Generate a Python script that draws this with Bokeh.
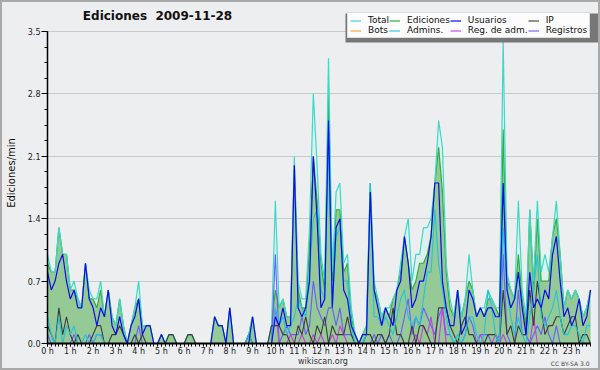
from bokeh.plotting import figure
from bokeh.layouts import column
from bokeh.models import (Range1d, FixedTicker, Legend, LegendItem, Label, Title,
                          BoxAnnotation, NumeralTickFormatter, ColumnDataSource)
from bokeh.embed import file_html
from bokeh.resources import INLINE

# ---------------- data (edits per minute, 10-minute bins) ----------------
title_text = "Ediciones\u00a0\u00a02009-11-28"
y_label = "Ediciones/min"
site_text = "wikiscan.org"
licence_text = "CC BY-SA 3.0"
hour_labels = [f"{h} h" for h in range(24)]
y_ticks = [0.0, 0.7, 1.4, 2.1, 2.8, 3.5]
bin_minutes = list(range(0, 1440, 10))
series_names = ["Total", "Ediciones", "Usuarios", "IP", "Bots", "Admins.", "Reg. de adm.", "Registros"]

total = [
    1.0, 0.8, 0.8, 1.3, 1.0, 1.0,
    0.6, 0.7, 0.5, 0.4, 0.9, 0.6,
    0.5, 0.5, 0.7, 0.3, 0.6, 0.3,
    0.2, 0.5, 0.2, 0.0, 0.2, 0.4,
    0.7, 0.2, 0.2, 0.2, 0.0, 0.0,
    0.1, 0.0, 0.1, 0.1, 0.0, 0.0,
    0.0, 0.1, 0.1, 0.0, 0.0, 0.0,
    0.0, 0.0, 0.3, 0.2, 0.2, 0.0,
    0.4, 0.0, 0.0, 0.0, 0.0, 0.1,
    0.3, 0.0, 0.0, 0.0, 0.0, 0.2,
    1.6, 0.4, 0.5, 0.3, 0.3, 2.1,
    0.7, 0.5, 0.5, 1.3, 2.8, 2.0,
    1.0, 0.7, 3.2, 0.8, 1.7, 1.8,
    0.9, 1.0, 0.4, 0.1, 0.0, 0.1,
    0.2, 1.8, 0.7, 0.5, 0.3, 0.4,
    0.4, 0.5, 0.6, 0.9, 1.2, 1.4,
    0.7, 1.0, 1.0, 1.3, 1.3, 1.4,
    1.8, 2.5, 2.2, 0.9, 0.5, 0.3,
    0.6, 0.3, 0.5, 1.0, 0.6, 0.3,
    0.4, 0.4, 0.6, 0.5, 0.4, 0.4,
    3.4, 0.8, 0.6, 0.5, 1.6, 0.6,
    0.3, 1.5, 0.7, 1.6, 0.8, 1.0,
    0.8, 1.2, 1.6, 1.0, 0.4, 0.6,
    0.5, 0.6, 0.5, 0.3, 0.4, 0.6,
]
ediciones = [
    0.9, 0.8, 0.8, 1.3, 1.0, 1.0,
    0.6, 0.6, 0.5, 0.4, 0.9, 0.5,
    0.5, 0.4, 0.6, 0.3, 0.6, 0.3,
    0.2, 0.5, 0.2, 0.0, 0.2, 0.4,
    0.5, 0.2, 0.2, 0.2, 0.0, 0.0,
    0.1, 0.0, 0.1, 0.1, 0.0, 0.0,
    0.0, 0.1, 0.1, 0.0, 0.0, 0.0,
    0.0, 0.0, 0.3, 0.2, 0.2, 0.0,
    0.4, 0.0, 0.0, 0.0, 0.0, 0.1,
    0.3, 0.0, 0.0, 0.0, 0.0, 0.2,
    0.6, 0.4, 0.5, 0.3, 0.3, 2.0,
    0.6, 0.4, 0.4, 1.1, 2.1, 1.6,
    0.9, 0.6, 2.8, 0.7, 1.5, 1.5,
    0.8, 0.9, 0.3, 0.1, 0.0, 0.1,
    0.2, 1.8, 0.6, 0.5, 0.3, 0.4,
    0.3, 0.5, 0.6, 0.8, 1.2, 0.9,
    0.6, 0.7, 0.9, 0.9, 1.0, 1.2,
    1.8, 2.2, 1.7, 0.8, 0.4, 0.3,
    0.6, 0.3, 0.5, 0.7, 0.6, 0.3,
    0.4, 0.3, 0.5, 0.5, 0.4, 0.3,
    2.4, 0.7, 0.6, 0.5, 1.0, 0.5,
    0.2, 1.5, 0.6, 1.4, 0.7, 0.7,
    0.7, 1.2, 1.4, 1.0, 0.4, 0.6,
    0.5, 0.6, 0.5, 0.3, 0.4, 0.6,
]
usuarios = [
    0.8, 0.6, 0.7, 0.9, 1.0, 0.7,
    0.5, 0.6, 0.4, 0.4, 0.9, 0.5,
    0.4, 0.2, 0.4, 0.3, 0.6, 0.2,
    0.1, 0.3, 0.1, 0.0, 0.2, 0.3,
    0.5, 0.1, 0.2, 0.2, 0.0, 0.0,
    0.1, 0.0, 0.0, 0.0, 0.0, 0.0,
    0.0, 0.0, 0.0, 0.0, 0.0, 0.0,
    0.0, 0.0, 0.3, 0.2, 0.2, 0.0,
    0.4, 0.0, 0.0, 0.0, 0.0, 0.0,
    0.3, 0.0, 0.0, 0.0, 0.0, 0.0,
    0.3, 0.2, 0.4, 0.2, 0.2, 2.0,
    0.4, 0.3, 0.4, 0.7, 2.1, 1.4,
    0.4, 0.5, 2.5, 0.4, 1.3, 1.4,
    0.6, 0.5, 0.2, 0.1, 0.0, 0.1,
    0.1, 1.7, 0.6, 0.4, 0.2, 0.4,
    0.3, 0.2, 0.6, 0.7, 1.2, 0.9,
    0.4, 0.5, 0.7, 0.7, 0.9, 1.2,
    1.8, 1.8, 0.7, 0.4, 0.2, 0.2,
    0.6, 0.1, 0.2, 0.6, 0.5, 0.3,
    0.4, 0.3, 0.4, 0.4, 0.3, 0.3,
    1.8, 0.6, 0.4, 0.5, 0.8, 0.4,
    0.1, 0.8, 0.4, 0.5, 0.4, 0.6,
    0.5, 1.0, 1.2, 0.7, 0.3, 0.4,
    0.2, 0.3, 0.5, 0.2, 0.3, 0.6,
]
ip = [
    0.2, 0.1, 0.0, 0.4, 0.1, 0.3,
    0.1, 0.0, 0.1, 0.0, 0.0, 0.0,
    0.1, 0.2, 0.2, 0.0, 0.0, 0.1,
    0.1, 0.2, 0.1, 0.0, 0.0, 0.1,
    0.0, 0.1, 0.0, 0.0, 0.0, 0.0,
    0.0, 0.0, 0.1, 0.1, 0.0, 0.0,
    0.0, 0.1, 0.1, 0.0, 0.0, 0.0,
    0.0, 0.0, 0.0, 0.0, 0.0, 0.0,
    0.0, 0.0, 0.0, 0.0, 0.0, 0.1,
    0.0, 0.0, 0.0, 0.0, 0.0, 0.2,
    0.2, 0.2, 0.1, 0.1, 0.0, 0.0,
    0.2, 0.1, 0.3, 0.1, 0.0, 0.2,
    0.1, 0.3, 0.0, 0.2, 0.1, 0.1,
    0.1, 0.3, 0.1, 0.0, 0.0, 0.0,
    0.1, 0.1, 0.0, 0.1, 0.1, 0.0,
    0.1, 0.4, 0.1, 0.1, 0.0, 0.0,
    0.2, 0.0, 0.2, 0.2, 0.1, 0.0,
    0.0, 0.4, 0.4, 0.4, 0.2, 0.1,
    0.0, 0.2, 0.3, 0.1, 0.1, 0.0,
    0.0, 0.0, 0.1, 0.1, 0.1, 0.0,
    0.6, 0.1, 0.2, 0.0, 0.2, 0.1,
    0.1, 0.6, 0.2, 0.7, 0.4, 0.1,
    0.2, 0.2, 0.3, 0.3, 0.1, 0.2,
    0.3, 0.3, 0.0, 0.1, 0.1, 0.0,
]
bots = [0.0] * 144
admins = [
    0.3, 0.1, 0.0, 0.3, 0.0, 0.2,
    0.1, 0.2, 0.0, 0.0, 0.1, 0.0,
    0.0, 0.1, 0.1, 0.0, 0.0, 0.0,
    0.0, 0.0, 0.0, 0.0, 0.0, 0.0,
    0.0, 0.0, 0.0, 0.0, 0.0, 0.0,
    0.0, 0.0, 0.0, 0.0, 0.0, 0.0,
    0.0, 0.0, 0.0, 0.0, 0.0, 0.0,
    0.0, 0.0, 0.0, 0.0, 0.0, 0.0,
    0.0, 0.0, 0.0, 0.0, 0.0, 0.1,
    0.0, 0.0, 0.0, 0.0, 0.0, 0.0,
    0.4, 0.2, 0.3, 0.1, 0.2, 0.3,
    0.5, 0.4, 0.3, 0.8, 1.4, 1.5,
    0.6, 0.5, 2.2, 0.4, 1.2, 1.3,
    0.7, 0.7, 0.2, 0.0, 0.0, 0.0,
    0.1, 1.8, 0.3, 0.3, 0.2, 0.3,
    0.2, 0.1, 0.3, 0.5, 0.6, 0.3,
    0.2, 0.3, 0.2, 0.5, 0.8, 0.8,
    1.5, 0.9, 0.6, 0.3, 0.1, 0.0,
    0.1, 0.0, 0.1, 0.3, 0.3, 0.1,
    0.0, 0.1, 0.6, 0.4, 0.1, 0.0,
    1.3, 0.6, 0.3, 0.1, 0.3, 0.1,
    0.0, 0.3, 0.6, 1.0, 0.3, 0.2,
    0.3, 0.4, 0.6, 0.3, 0.1, 0.1,
    0.2, 0.2, 0.1, 0.0, 0.2, 0.2,
]
reg_adm = [
    0.0, 0.0, 0.0, 0.0, 0.0, 0.0,
    0.0, 0.0, 0.0, 0.0, 0.0, 0.0,
    0.0, 0.0, 0.0, 0.0, 0.0, 0.0,
    0.0, 0.0, 0.0, 0.0, 0.0, 0.0,
    0.0, 0.0, 0.0, 0.0, 0.0, 0.0,
    0.0, 0.0, 0.0, 0.0, 0.0, 0.0,
    0.0, 0.0, 0.0, 0.0, 0.0, 0.0,
    0.0, 0.0, 0.0, 0.0, 0.0, 0.0,
    0.0, 0.0, 0.0, 0.0, 0.0, 0.0,
    0.0, 0.0, 0.0, 0.0, 0.0, 0.0,
    0.4, 0.0, 0.0, 0.0, 0.1, 0.0,
    0.0, 0.1, 0.0, 0.0, 0.1, 0.0,
    0.1, 0.0, 0.0, 0.1, 0.0, 0.2,
    0.1, 0.0, 0.0, 0.0, 0.0, 0.0,
    0.0, 0.0, 0.0, 0.0, 0.0, 0.0,
    0.0, 0.0, 0.0, 0.0, 0.0, 0.0,
    0.0, 0.1, 0.0, 0.2, 0.1, 0.3,
    0.0, 0.0, 0.4, 0.0, 0.0, 0.0,
    0.0, 0.0, 0.0, 0.0, 0.0, 0.0,
    0.1, 0.0, 0.0, 0.0, 0.1, 0.0,
    0.1, 0.0, 0.0, 0.0, 0.0, 0.0,
    0.0, 0.0, 0.3, 0.0, 0.0, 0.0,
    0.0, 0.0, 0.0, 0.0, 0.0, 0.0,
    0.0, 0.0, 0.0, 0.0, 0.0, 0.0,
]
registros = [
    0.1, 0.0, 0.0, 0.0, 0.0, 0.0,
    0.0, 0.1, 0.0, 0.0, 0.0, 0.1,
    0.0, 0.1, 0.1, 0.0, 0.0, 0.0,
    0.0, 0.0, 0.0, 0.0, 0.0, 0.0,
    0.2, 0.0, 0.0, 0.0, 0.0, 0.0,
    0.0, 0.0, 0.0, 0.0, 0.0, 0.0,
    0.0, 0.0, 0.0, 0.0, 0.0, 0.0,
    0.0, 0.0, 0.0, 0.0, 0.0, 0.0,
    0.0, 0.0, 0.0, 0.0, 0.0, 0.0,
    0.0, 0.0, 0.0, 0.0, 0.0, 0.0,
    1.0, 0.0, 0.1, 0.2, 0.1, 0.1,
    0.1, 0.3, 0.1, 0.2, 0.7, 0.4,
    0.3, 0.2, 0.4, 0.4, 0.2, 0.4,
    0.1, 0.1, 0.1, 0.0, 0.0, 0.0,
    0.0, 0.0, 0.1, 0.0, 0.1, 0.0,
    0.1, 0.0, 0.0, 0.1, 0.3, 0.5,
    0.1, 0.3, 0.2, 0.4, 0.3, 0.2,
    0.1, 0.3, 0.4, 0.1, 0.1, 0.0,
    0.0, 0.0, 0.1, 0.3, 0.2, 0.0,
    0.1, 0.1, 0.1, 0.0, 0.0, 0.1,
    1.0, 0.1, 0.0, 0.0, 0.6, 0.1,
    0.1, 0.0, 0.1, 0.2, 0.1, 0.3,
    0.1, 0.0, 0.2, 0.0, 0.0, 0.0,
    0.0, 0.0, 0.0, 0.0, 0.0, 0.0,
]

# ---------------- figure ----------------
FONT = "DejaVu Sans"
hours = [m / 60 for m in bin_minutes]
src = ColumnDataSource(dict(x=hours, total=total, ed=ediciones, us=usuarios, ip=ip,
                            bots=bots, adm=admins, radm=reg_adm, reg=registros))

# The figure sits inside a 2 px grey frame (page 600x370 -> figure 596x366).
# Its plot frame spans from the top edge down to the x axis and to the right edge,
# so that the title and the legend (drawn inside the frame) are not clipped.
FW, FH = 596, 366
left_px, bottom_px, data_right_px, top_tick_px = 43, 342, 588, 29
x_end = hours[-1] * (FW - left_px) / (data_right_px - left_px)
y_end = y_ticks[-1] * bottom_px / (bottom_px - top_tick_px)

p = figure(width=FW, height=FH, output_backend="svg", toolbar_location=None,
           x_range=Range1d(0, x_end), y_range=Range1d(0, y_end),
           min_border_left=left_px, min_border_right=0, min_border_top=0,
           min_border_bottom=FH - bottom_px,
           background_fill_color="#eceef0", border_fill_color="#eceef0")
p.outline_line_color = None
p.xgrid.visible = False
p.ygrid.ticker = FixedTicker(ticks=y_ticks)
p.ygrid.grid_line_color = "#c8c9cb"
p.ygrid.grid_line_width = 1
p.ygrid.bounds = (0, hours[-1])

# x axis
p.xaxis.bounds = (0, hours[-1])
p.xaxis.ticker = FixedTicker(ticks=list(range(24)), minor_ticks=hours)
p.xaxis.major_label_overrides = {h: lab for h, lab in enumerate(hour_labels)}
p.xaxis.major_tick_out = 3
p.xaxis.major_tick_in = 0
p.xaxis.minor_tick_out = 3
p.xaxis.minor_tick_in = 0
p.xaxis.axis_line_width = 2
p.xaxis.major_label_standoff = 0
p.xaxis.major_label_text_font = FONT
p.xaxis.major_label_text_font_size = "8px"
p.xaxis.major_label_text_color = "#222222"
p.xaxis.axis_label = site_text
p.xaxis.axis_label_text_font = FONT
p.xaxis.axis_label_text_font_style = "normal"
p.xaxis.axis_label_text_font_size = "8px"
p.xaxis.axis_label_text_color = "#333333"
p.xaxis.axis_label_standoff = -2

# y axis
p.yaxis.bounds = (0, y_ticks[-1])
p.yaxis.ticker = FixedTicker(ticks=y_ticks, minor_ticks=[y_ticks[1] * k / 4 for k in range(21)])
p.yaxis.formatter = NumeralTickFormatter(format="0.0")
p.yaxis.major_tick_out = 6
p.yaxis.major_tick_in = 0
p.yaxis.minor_tick_out = 3
p.yaxis.minor_tick_in = 0
p.yaxis.axis_line_width = 1.5
p.yaxis.major_label_standoff = 1
p.yaxis.major_label_text_font = FONT
p.yaxis.major_label_text_font_size = "8px"
p.yaxis.major_label_text_color = "#222222"
p.yaxis.axis_label = y_label
p.yaxis.axis_label_text_font = FONT
p.yaxis.axis_label_text_font_style = "normal"
p.yaxis.axis_label_text_font_size = "10px"
p.yaxis.axis_label_text_color = "#111111"
p.yaxis.axis_label_standoff = 8

# ---------------- glyphs ----------------
p.varea(x="x", y1=0, y2="total", source=src, fill_color="#dcf1ed")
p.varea(x="x", y1=0, y2="ed", source=src, fill_color="#95c995")
r_ed = p.line("x", "ed", source=src, line_color="#38aa38", line_width=1.2)
r_tot = p.line("x", "total", source=src, line_color="#3ed8c8", line_width=1.2)
r_bots = p.line("x", "bots", source=src, line_color="#ff9a30", line_width=1.1)
r_reg = p.line("x", "reg", source=src, line_color="#6a5cff", line_width=1.1)
r_radm = p.line("x", "radm", source=src, line_color="#c83ce0", line_width=1.1)
r_ip = p.line("x", "ip", source=src, line_color="#3c3c3c", line_width=1.1)
r_adm = p.line("x", "adm", source=src, line_color="#22c4dc", line_width=1.1)
r_us = p.line("x", "us", source=src, line_color="#0c0ce8", line_width=1.2)

# ---------------- annotations (screen offsets from the frame's bottom-left) ----------------
p.add_layout(BoxAnnotation(left=298, right=552, top=330, bottom=301,
                           left_units="screen", right_units="screen",
                           top_units="screen", bottom_units="screen",
                           fill_color="#777777", fill_alpha=1, line_alpha=0))

items = [LegendItem(label=n, renderers=[r]) for n, r in zip(
    series_names, [r_tot, r_ed, r_us, r_ip, r_bots, r_adm, r_radm, r_reg])]
legend = Legend(items=items, location=(300, 305), orientation="horizontal", nrows=2,
                label_text_font=FONT, label_text_font_size="9px", label_text_color="#111111",
                label_height=7, glyph_height=7, glyph_width=11, label_standoff=7,
                spacing=0, padding=2, margin=0,
                border_line_color="#bdbdbd", border_line_width=1,
                background_fill_color="#fcfcfc", background_fill_alpha=1)
p.add_layout(legend, "center")

p.add_layout(Label(x=110, y=328, x_units="screen", y_units="screen", text=title_text,
                   text_font=FONT, text_font_style="bold", text_font_size="12px",
                   text_color="#111111", text_align="center", text_baseline="middle"))

p.add_layout(Title(text=licence_text, align="right", vertical_align="top",
                   standoff=-18, offset=9,
                   text_font=FONT, text_font_style="normal", text_font_size="6px",
                   text_color="#444444"), "below")

page = column(p, styles={"border": "2px solid #a9a9a9", "background-color": "#eceef0"})

open("out.html", "w").write(file_html(page, INLINE))
